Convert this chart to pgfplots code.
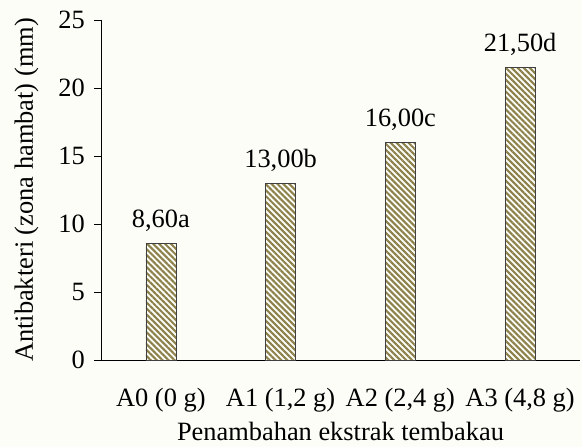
\documentclass[border=0pt]{standalone}
\usepackage{fontspec}
\setmainfont{Liberation Serif}
\usepackage{pgfplots}
\pgfplotsset{compat=1.18}
\usetikzlibrary{patterns.meta}
\definecolor{olivebar}{RGB}{140,128,75}
\definecolor{bgcream}{RGB}{253,253,248}
\newcommand{\bigf}{\fontsize{26.4}{30}\selectfont}
\begin{document}
\bigf
\begin{tikzpicture}
\fill[bgcream] (-101pt,-87pt) rectangle (481pt,360pt);
\useasboundingbox (-101pt,-87pt) rectangle (481pt,360pt);
\begin{axis}[
  at={(0,0)}, anchor=south west,
  scale only axis, width=479pt, height=340pt,
  xmin=-0.5, xmax=3.5, ymin=0, ymax=25,
  axis x line*=bottom, axis y line*=left,
  ytick={0,5,...,25},
  xtick={0,1,2,3},
  xticklabels={{A0 (0 g)},{A1 (1,2 g)},{A2 (2,4 g)},{A3 (4,8 g)}},
  x tick style={draw=none},
  y tick style={black, line width=0.8pt},
  tick align=outside, major tick length=7pt,
  axis line style={black, line width=0.8pt},
  /pgf/number format/assume math mode=true,
  every tick label/.append style={font=\bigf, inner sep=0pt},
  yticklabel style={anchor=east, xshift=-9pt},
  xticklabel style={anchor=base, yshift=-40pt},
  every axis label/.append style={font=\bigf},
  xlabel={Penambahan ekstrak tembakau},
  ylabel={Antibakteri (zona hambat) (mm)},
  every axis x label/.style={at={(axis description cs:0.5,0)}, anchor=base, yshift=-81pt, inner sep=0pt},
  every axis y label/.style={at={(axis description cs:0,0.5)}, rotate=90, anchor=base, yshift=68pt},
  nodes near coords,
  point meta=explicit symbolic,
  every node near coord/.append style={font=\bigf, anchor=base, yshift=16pt, inner sep=0pt},
  clip=false,
]
\addplot[ybar, bar width=30pt, draw=black!75, line width=0.6pt,
  pattern={Lines[angle=-45, distance=4.2pt, line width=2.1pt]}, pattern color=olivebar]
  coordinates {(0,8.6) [8,60a] (1,13.0) [13,00b] (2,16.0) [16,00c] (3,21.5) [21,50d]};
\end{axis}
\end{tikzpicture}
\end{document}
